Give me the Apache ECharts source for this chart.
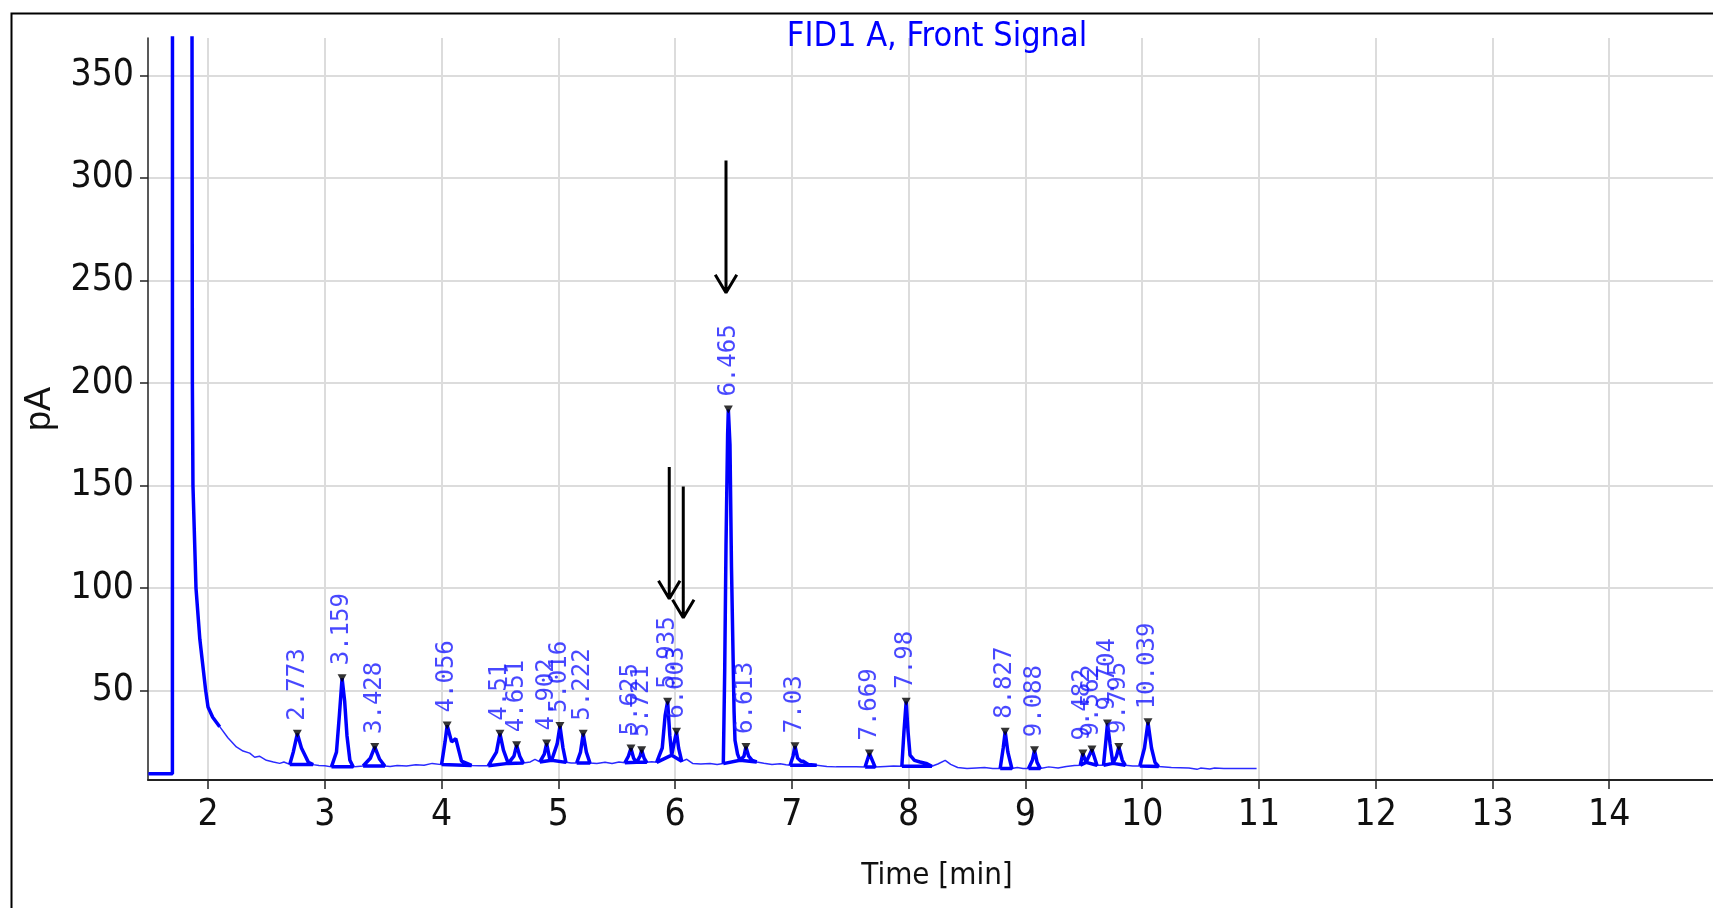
<!DOCTYPE html>
<html><head><meta charset="utf-8">
<script src="https://cdn.jsdelivr.net/npm/echarts@6/dist/echarts.min.js"></script>
<style>html,body{margin:0;padding:0;background:#fff}#c{width:1713px;height:908px}</style>
</head><body><div id="c"></div>
<script>
// ---------- data ----------
const chartTitle = 'FID1 A, Front Signal';
const xName = 'Time [min]';
const yName = 'pA';
const xTicks = [2, 3, 4, 5, 6, 7, 8, 9, 10, 11, 12, 13, 14];
const yTicks = [50, 100, 150, 200, 250, 300, 350];

// chromatogram trace [time (min), signal (pA)]
const trace = [
  [1.49, 9.5], [1.695, 9.5], [1.697, 1500], [1.86, 1500], [1.863, 370], [1.866, 200], [1.871, 150], [1.897, 100],
  [1.93, 75], [1.98, 50], [2.0, 42], [2.04, 37], [2.10, 32.4], [2.17, 27], [2.243, 22.5], [2.30, 20.5],
  [2.357, 19.5], [2.40, 17.5], [2.44, 18], [2.50, 16], [2.56, 15.2], [2.614, 14.5], [2.65, 15.2], [2.70, 14.0],
  [2.73, 20], [2.765, 29], [2.80, 22], [2.86, 15], [2.90, 13.9],
  [2.95, 13.5], [3.0, 13.4], [3.057, 12.8],
  [3.10, 20], [3.125, 38], [3.148, 56], [3.17, 45], [3.19, 28], [3.215, 16], [3.243, 12.8],
  [3.28, 13.0], [3.328, 13.2],
  [3.39, 17], [3.428, 22.5], [3.47, 16.5], [3.514, 13.2],
  [3.56, 13.0], [3.62, 13.5], [3.70, 13.2], [3.78, 13.8], [3.85, 13.6], [3.92, 14.5], [4.0, 13.9],
  [4.03, 25], [4.048, 33], [4.086, 25], [4.122, 26.5], [4.171, 15.6], [4.257, 13.5],
  [4.32, 13.4], [4.40, 13.3],
  [4.47, 20], [4.50, 29], [4.53, 21], [4.571, 14.5],
  [4.62, 18], [4.643, 23.4], [4.67, 18], [4.70, 14.7],
  [4.76, 15.2], [4.80, 16.5], [4.842, 15.2],
  [4.88, 19], [4.90, 24.2], [4.925, 17], [4.943, 16],
  [4.99, 24], [5.014, 32.7], [5.04, 22], [5.065, 15],
  [5.11, 14.7], [5.157, 14.7],
  [5.19, 20], [5.213, 29], [5.24, 20], [5.271, 14.7],
  [5.33, 14.5], [5.40, 15.0], [5.46, 14.4], [5.52, 15.2], [5.57, 14.8],
  [5.60, 18], [5.622, 21.8], [5.645, 17], [5.67, 15],
  [5.70, 18], [5.714, 20.9], [5.735, 17], [5.757, 15],
  [5.80, 15.3], [5.842, 15],
  [5.89, 22], [5.915, 38], [5.936, 44.6], [5.955, 28], [5.971, 18.5],
  [5.99, 24], [6.012, 29.9], [6.03, 22], [6.057, 15.5],
  [6.10, 16.5], [6.15, 14.5], [6.22, 14.2], [6.30, 14.5], [6.36, 14.0], [6.413, 14.4],
  [6.425, 60], [6.436, 120.6], [6.45, 175], [6.456, 187], [6.47, 170], [6.483, 110], [6.494, 74.8],
  [6.505, 40], [6.513, 25.8], [6.535, 19], [6.556, 16],
  [6.59, 18], [6.607, 22.5], [6.63, 18], [6.66, 16], [6.699, 15.2],
  [6.76, 14.6], [6.83, 14.0], [6.90, 14.3], [6.95, 13.8], [6.985, 13.6],
  [7.01, 18], [7.027, 22.9], [7.05, 17], [7.08, 15.5], [7.10, 15.5], [7.14, 14], [7.213, 13.6],
  [7.30, 13.0], [7.38, 12.8], [7.46, 12.9], [7.55, 12.8], [7.627, 12.7],
  [7.664, 19.3], [7.713, 12.7],
  [7.80, 13.0], [7.87, 13.2], [7.942, 13.1],
  [7.96, 30], [7.979, 44.6], [7.995, 30], [8.012, 18.5], [8.05, 16], [8.098, 15.2], [8.15, 14.5], [8.199, 13.1],
  [8.25, 14.2], [8.313, 16.0], [8.36, 14.0], [8.42, 12.5], [8.50, 12.0], [8.58, 12.3], [8.65, 12.5], [8.72, 12.0], [8.784, 12.0],
  [8.81, 22], [8.827, 29.9], [8.85, 20], [8.884, 12.0],
  [8.93, 12.5], [8.98, 12.0], [9.027, 12.0],
  [9.06, 16], [9.078, 20.9], [9.10, 15], [9.127, 12.0],
  [9.20, 12.8], [9.28, 12.2], [9.35, 13.0], [9.42, 13.5], [9.47, 13.6],
  [9.492, 19.3], [9.52, 15],
  [9.57, 21.3], [9.613, 13.6],
  [9.669, 13.6],
  [9.69, 26], [9.703, 34], [9.725, 24], [9.75, 14.5],
  [9.78, 18], [9.80, 22.5], [9.83, 16], [9.855, 13.6],
  [9.92, 13.2], [9.98, 13.2],
  [10.02, 22], [10.05, 34.5], [10.08, 22], [10.11, 15], [10.14, 13.0],
  [10.25, 12.5], [10.40, 12.3], [10.47, 11.6], [10.50, 12.2], [10.58, 11.8], [10.62, 12.3], [10.70, 12.0],
  [10.85, 12.0], [10.98, 12.0]
];

// integrated peaks
const peakLabels  = ['2.773','3.159','3.428','4.056','4.51','4.651','4.902','5.016','5.222','5.625','5.721','5.935','6.003','6.465','6.613','7.03','7.669','7.98','8.827','9.088','9.482','9.562','9.704','9.795','10.039'];
const peakTimes   = [2.765, 3.148, 3.428, 4.048, 4.50, 4.643, 4.90, 5.014, 5.213, 5.622, 5.714, 5.936, 6.012, 6.456, 6.607, 7.027, 7.664, 7.979, 8.827, 9.078, 9.492, 9.57, 9.703, 9.80, 10.05];
const peakHeights = [29, 56, 22.5, 33, 29, 23.4, 24.2, 32.7, 29, 21.8, 20.9, 44.6, 29.9, 187, 22.5, 22.9, 19.3, 44.6, 29.9, 20.9, 19.3, 21.3, 34, 22.5, 34.5];
const peakStart   = [2.70, 3.057, 3.328, 4.0, 4.40, 4.571, 4.842, 4.943, 5.157, 5.57, 5.67, 5.842, 5.971, 6.413, 6.556, 6.985, 7.627, 7.942, 8.784, 9.027, 9.47, 9.52, 9.669, 9.75, 9.98];
const peakEnd     = [2.90, 3.243, 3.514, 4.257, 4.571, 4.70, 4.943, 5.065, 5.271, 5.67, 5.757, 5.971, 6.057, 6.556, 6.699, 7.213, 7.713, 8.199, 8.884, 9.127, 9.52, 9.613, 9.75, 9.855, 10.14];
const solventEnd  = 2.1;

// annotation arrows (time, tail pA, tip pA)
const arrowTimes = [6.436, 5.950, 6.070];
const arrowTails = [308.5, 159, 149.5];
const arrowTips  = [244, 94.8, 85.5];
const arrowWingDt = 0.092, arrowWingDv = 8.8;

// ---------- build series ----------
const inRange = (s, e) => trace.filter(p => p[0] >= s - 1e-9 && p[0] <= e + 1e-9);
const thick = [];
inRange(1.49, solventEnd).forEach(p => thick.push(p));
thick.push([solventEnd, '-']);
peakStart.forEach((s, i) => {
  const pts = inRange(s, peakEnd[i]);
  pts.forEach(p => thick.push(p));
  thick.push(pts[0]);
  thick.push([peakEnd[i], '-']);
});
const arrows = [];
arrowTimes.forEach((t, i) => {
  arrows.push([t, arrowTails[i]], [t, arrowTips[i]], [t, '-']);
  arrows.push([t - arrowWingDt, arrowTips[i] + arrowWingDv], [t, arrowTips[i]], [t + arrowWingDt, arrowTips[i] + arrowWingDv], [t, '-']);
});
const markers = peakTimes.map((t, i) => ({ value: [t, peakHeights[i]], name: peakLabels[i] }));

const NARROW = '"Liberation Sans Narrow", "Arial Narrow", "DejaVu Sans Condensed", sans-serif';
const chart = echarts.init(document.getElementById('c'), null, { renderer: 'canvas' });
chart.setOption({
  animation: false,
  backgroundColor: '#ffffff',
  title: {
    text: chartTitle, left: 932, top: 15, textAlign: 'center',
    textStyle: { color: '#0000ff', fontFamily: NARROW, fontSize: 34, fontWeight: 'normal' }
  },
  graphic: [{
    type: 'rect', left: 9, top: 11, silent: true, z: -1,
    shape: { width: 2000, height: 2000 },
    style: { fill: 'none', stroke: '#000', lineWidth: 2 }
  }],
  grid: { left: 148, top: 38, right: -13, bottom: 128, containLabel: false, outerBoundsMode: 'none' },
  xAxis: {
    type: 'value', min: 1.486, max: 15,
    name: xName, nameLocation: 'middle', nameGap: 80,
    nameTextStyle: { color: '#111', fontFamily: NARROW, fontSize: 31 },
    axisLine: { show: true, onZero: false, lineStyle: { color: '#222', width: 2 } },
    axisTick: { show: true, length: 9, customValues: xTicks, lineStyle: { color: '#222', width: 1.5 } },
    axisLabel: { customValues: xTicks, margin: 17, color: '#111', fontFamily: NARROW, fontSize: 37 },
    splitLine: { show: true, lineStyle: { color: '#dcdcdc', width: 2 } }
  },
  yAxis: {
    type: 'value', min: 6.4, max: 368.2,
    name: yName, nameLocation: 'middle', nameGap: 90, nameRotate: 90,
    nameTextStyle: { color: '#111', fontFamily: '"Liberation Sans", Arial, sans-serif', fontSize: 36 },
    axisLine: { show: true, onZero: false, lineStyle: { color: '#222', width: 1.5 } },
    axisTick: { show: true, length: 8, customValues: yTicks, lineStyle: { color: '#222', width: 1.5 } },
    axisLabel: { customValues: yTicks, margin: 14, color: '#111', fontFamily: NARROW, fontSize: 37 },
    splitLine: { show: true, lineStyle: { color: '#dcdcdc', width: 2 } }
  },
  series: [
    { type: 'line', data: trace, showSymbol: false, symbol: 'none', lineStyle: { color: '#2a2aff', width: 1.5 }, z: 3, silent: true },
    { type: 'line', data: thick, showSymbol: false, symbol: 'none', connectNulls: false, lineStyle: { color: '#0000ff', width: 3.5 }, z: 4, silent: true },
    { type: 'line', data: arrows, showSymbol: false, symbol: 'none', connectNulls: false, lineStyle: { color: '#000', width: 3, cap: 'butt' }, z: 6, clip: false, silent: true },
    {
      type: 'scatter', data: markers, symbol: 'triangle', symbolRotate: 180, symbolSize: [9, 8],
      itemStyle: { color: '#000' }, z: 5, silent: true,
      label: {
        show: true, formatter: '{b}', position: 'top', distance: 9, rotate: 90,
        align: 'left', verticalAlign: 'middle',
        color: '#1a1aff', fontFamily: '"DejaVu Sans Mono", monospace', fontSize: 24
      }
    }
  ]
});
</script>
</body></html>
